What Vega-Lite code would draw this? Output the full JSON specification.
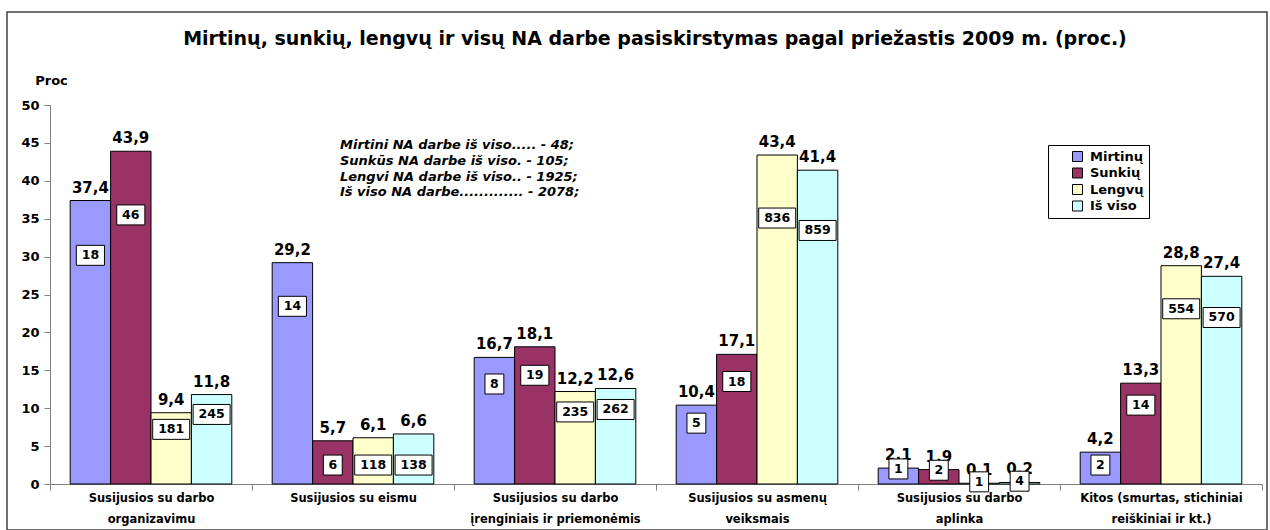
{
  "$schema": "https://vega.github.io/schema/vega-lite/v6.json",
  "autosize": {"type": "none"},
  "padding": {"left": 7, "top": 12, "right": 2, "bottom": 0},
  "width": 1260,
  "height": 518,
  "background": "white",
  "config": {
    "locale": {"number": {"decimal": ",", "thousands": " ", "grouping": [3], "currency": ["", ""]}},
    "view": {"stroke": "#404040", "strokeWidth": 1.5},
    "font": "DejaVu Sans"
  },
  "title": {
    "text": "Mirtinų, sunkių, lengvų ir visų NA darbe pasiskirstymas pagal priežastis 2009 m. (proc.)",
    "anchor": "middle",
    "frame": "group",
    "offset": -52,
    "dx": 18,
    "baseline": "alphabetic",
    "font": "DejaVu Sans",
    "fontSize": 19,
    "fontWeight": "bold",
    "color": "black"
  },
  "datasets": {
    "bars": [
      {"cat": "Susijusios su darbo|organizavimu", "series": "Mirtinų", "value": 37.4, "count": 18},
      {"cat": "Susijusios su darbo|organizavimu", "series": "Sunkių", "value": 43.9, "count": 46},
      {"cat": "Susijusios su darbo|organizavimu", "series": "Lengvų", "value": 9.4, "count": 181},
      {"cat": "Susijusios su darbo|organizavimu", "series": "Iš viso", "value": 11.8, "count": 245},
      {"cat": "Susijusios su eismu", "series": "Mirtinų", "value": 29.2, "count": 14},
      {"cat": "Susijusios su eismu", "series": "Sunkių", "value": 5.7, "count": 6},
      {"cat": "Susijusios su eismu", "series": "Lengvų", "value": 6.1, "count": 118},
      {"cat": "Susijusios su eismu", "series": "Iš viso", "value": 6.6, "count": 138},
      {"cat": "Susijusios su darbo|įrenginiais ir priemonėmis", "series": "Mirtinų", "value": 16.7, "count": 8},
      {"cat": "Susijusios su darbo|įrenginiais ir priemonėmis", "series": "Sunkių", "value": 18.1, "count": 19},
      {"cat": "Susijusios su darbo|įrenginiais ir priemonėmis", "series": "Lengvų", "value": 12.2, "count": 235},
      {"cat": "Susijusios su darbo|įrenginiais ir priemonėmis", "series": "Iš viso", "value": 12.6, "count": 262},
      {"cat": "Susijusios su asmenų|veiksmais", "series": "Mirtinų", "value": 10.4, "count": 5},
      {"cat": "Susijusios su asmenų|veiksmais", "series": "Sunkių", "value": 17.1, "count": 18},
      {"cat": "Susijusios su asmenų|veiksmais", "series": "Lengvų", "value": 43.4, "count": 836},
      {"cat": "Susijusios su asmenų|veiksmais", "series": "Iš viso", "value": 41.4, "count": 859},
      {"cat": "Susijusios su darbo|aplinka", "series": "Mirtinų", "value": 2.1, "count": 1},
      {"cat": "Susijusios su darbo|aplinka", "series": "Sunkių", "value": 1.9, "count": 2},
      {"cat": "Susijusios su darbo|aplinka", "series": "Lengvų", "value": 0.1, "count": 1},
      {"cat": "Susijusios su darbo|aplinka", "series": "Iš viso", "value": 0.2, "count": 4},
      {"cat": "Kitos (smurtas, stichiniai|reiškiniai ir kt.)", "series": "Mirtinų", "value": 4.2, "count": 2},
      {"cat": "Kitos (smurtas, stichiniai|reiškiniai ir kt.)", "series": "Sunkių", "value": 13.3, "count": 14},
      {"cat": "Kitos (smurtas, stichiniai|reiškiniai ir kt.)", "series": "Lengvų", "value": 28.8, "count": 554},
      {"cat": "Kitos (smurtas, stichiniai|reiškiniai ir kt.)", "series": "Iš viso", "value": 27.4, "count": 570}
    ],
    "note": [
      {"note": "Mirtini NA darbe iš viso..... - 48;\nSunkūs NA darbe iš viso. - 105;\nLengvi NA darbe iš viso.. - 1925;\nIš viso NA darbe............. - 2078;"}
    ]
  },
  "encoding": {
    "x": {
      "field": "cat",
      "type": "nominal",
      "sort": null,
      "scale": {
        "domain": [
          "Susijusios su darbo|organizavimu",
          "Susijusios su eismu",
          "Susijusios su darbo|įrenginiais ir priemonėmis",
          "Susijusios su asmenų|veiksmais",
          "Susijusios su darbo|aplinka",
          "Kitos (smurtas, stichiniai|reiškiniai ir kt.)"
        ],
        "range": [43, 1255],
        "paddingInner": 0,
        "paddingOuter": 0
      },
      "axis": {
        "title": null,
        "offset": -46,
        "tickBand": "extent",
        "domainColor": "#808080",
        "tickColor": "#808080",
        "tickSize": 6,
        "labelExpr": "split(datum.label, '|')",
        "labelFont": "DejaVu Sans",
        "labelFontSize": 11.5,
        "labelFontWeight": "bold",
        "labelColor": "black",
        "labelLineHeight": 21,
        "labelPadding": 2,
        "labelLimit": 0,
        "labelAngle": 0
      }
    },
    "y": {
      "type": "quantitative",
      "scale": {"domain": [0, 50], "range": [472, 93], "nice": false},
      "axis": {
        "title": "Proc",
        "titleAngle": 0,
        "titleX": 1,
        "titleY": 68,
        "titleAlign": "center",
        "titleBaseline": "middle",
        "titleFont": "DejaVu Sans",
        "titleFontSize": 13,
        "titleFontWeight": "bold",
        "titleColor": "black",
        "offset": -43,
        "values": [0, 5, 10, 15, 20, 25, 30, 35, 40, 45, 50],
        "grid": false,
        "domainColor": "#808080",
        "tickColor": "#808080",
        "tickSize": 6,
        "labelFont": "DejaVu Sans",
        "labelFontSize": 13,
        "labelFontWeight": "bold",
        "labelColor": "black",
        "labelPadding": 5
      }
    }
  },
  "layer": [
    {
      "data": {"name": "bars"},
      "mark": {"type": "bar", "stroke": "black", "strokeWidth": 1},
      "encoding": {
        "xOffset": {"field": "series", "type": "nominal", "scale": {"domain": ["Mirtinų", "Sunkių", "Lengvų", "Iš viso"], "paddingInner": 0, "paddingOuter": 0.5}},
        "y": {"field": "value", "type": "quantitative"},
        "color": {
          "field": "series",
          "type": "nominal",
          "scale": {"domain": ["Mirtinų", "Sunkių", "Lengvų", "Iš viso"], "range": ["#9999FF", "#993366", "#FFFFCC", "#CCFFFF"]},
          "legend": {
            "orient": "none",
            "legendX": 1041,
            "legendY": 133,
            "title": null,
            "strokeColor": "black",
            "fillColor": "white",
            "padding": 5,
            "symbolType": "square",
            "symbolSize": 100,
            "symbolStrokeColor": "black",
            "symbolStrokeWidth": 1,
            "symbolOffset": 18,
            "labelOffset": 6,
            "labelFont": "DejaVu Sans",
            "labelFontSize": 13,
            "labelFontWeight": "bold",
            "labelColor": "black",
            "rowPadding": 1.5
          }
        }
      }
    },
    {
      "data": {"name": "bars"},
      "mark": {"type": "text", "font": "DejaVu Sans", "fontWeight": "bold", "fontSize": 15, "baseline": "alphabetic", "dy": -8, "color": "black"},
      "encoding": {
        "xOffset": {"field": "series", "type": "nominal", "scale": {"domain": ["Mirtinų", "Sunkių", "Lengvų", "Iš viso"], "paddingInner": 0, "paddingOuter": 0.5}},
        "y": {"field": "value", "type": "quantitative"},
        "text": {"field": "value", "type": "quantitative", "format": ".1f"}
      }
    },
    {
      "data": {"name": "bars"},
      "transform": [
        {"calculate": "datum.value >= 7 ? 0.82 * datum.value - 0.5 : min(2.5, 0.85 * datum.value + 0.2)", "as": "labelAt"},
        {"calculate": "length(toString(datum.count))", "as": "digits"}
      ],
      "mark": {"type": "point", "filled": true, "fill": "white", "stroke": "black", "strokeWidth": 1, "opacity": 1},
      "encoding": {
        "xOffset": {"field": "series", "type": "nominal", "scale": {"domain": ["Mirtinų", "Sunkių", "Lengvų", "Iš viso"], "paddingInner": 0, "paddingOuter": 0.5}},
        "y": {"field": "labelAt", "type": "quantitative"},
        "shape": {
          "field": "digits",
          "type": "ordinal",
          "scale": {
            "domain": [1, 2, 3],
            "range": [
              "M-0.51,-0.54L0.51,-0.54L0.51,0.54L-0.51,0.54Z",
              "M-0.76,-0.54L0.76,-0.54L0.76,0.54L-0.76,0.54Z",
              "M-1,-0.54L1,-0.54L1,0.54L-1,0.54Z"
            ]
          },
          "legend": null
        },
        "size": {"value": 1369}
      }
    },
    {
      "data": {"name": "bars"},
      "transform": [
        {"calculate": "datum.value >= 7 ? 0.82 * datum.value - 0.5 : min(2.5, 0.85 * datum.value + 0.2)", "as": "labelAt"}
      ],
      "mark": {"type": "text", "font": "DejaVu Sans", "fontWeight": "bold", "fontSize": 12.5, "baseline": "middle", "color": "black"},
      "encoding": {
        "xOffset": {"field": "series", "type": "nominal", "scale": {"domain": ["Mirtinų", "Sunkių", "Lengvų", "Iš viso"], "paddingInner": 0, "paddingOuter": 0.5}},
        "y": {"field": "labelAt", "type": "quantitative"},
        "text": {"field": "count", "type": "quantitative"}
      }
    },
    {
      "data": {"name": "note"},
      "mark": {"type": "text", "font": "DejaVu Sans", "fontWeight": "bold", "fontStyle": "italic", "fontSize": 13, "align": "left", "baseline": "top", "lineBreak": "\n", "lineHeight": 15.7, "dx": -13, "color": "black"},
      "encoding": {
        "x": {"datum": "Susijusios su eismu"},
        "y": {"datum": 45.5},
        "text": {"field": "note", "type": "nominal"}
      }
    }
  ]
}
